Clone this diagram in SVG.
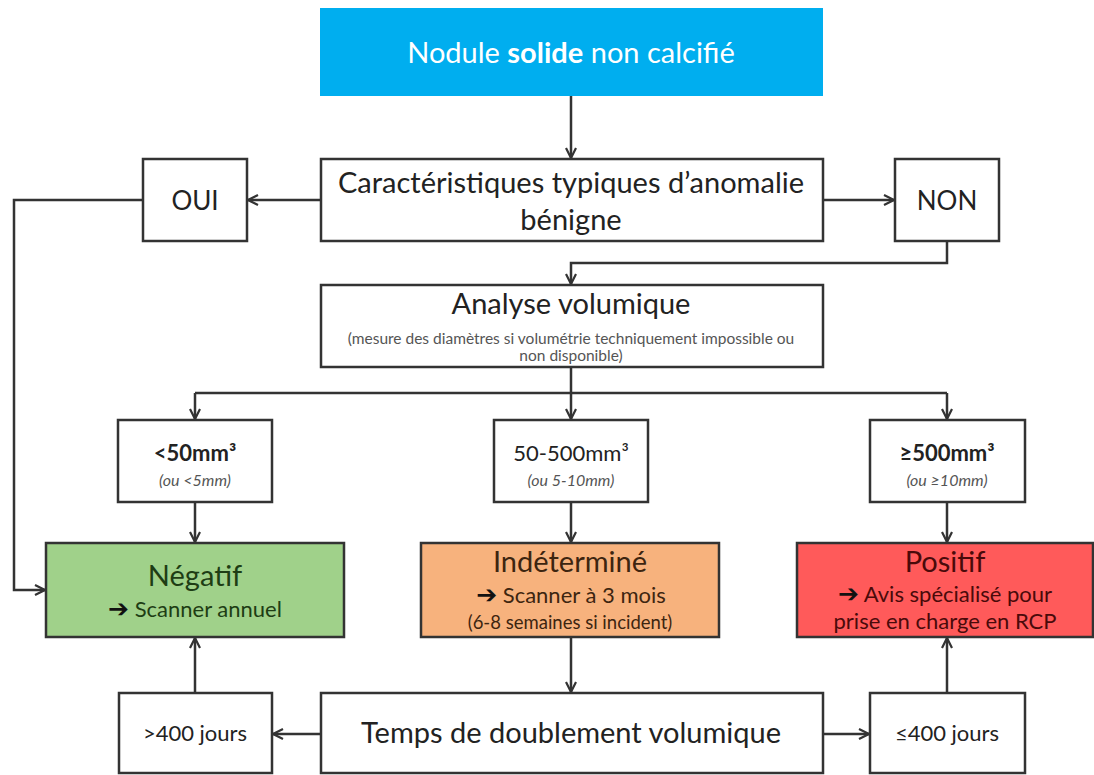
<svg xmlns="http://www.w3.org/2000/svg" width="1094" height="775" viewBox="0 0 1094 775">
<style>
text{font-family:Lato,"Open Sans","Liberation Sans",sans-serif;text-anchor:middle;fill:#222}
.box{fill:#fff;stroke:#333;stroke-width:2.5}
.big{font-size:29px}
.yn{font-size:26px}
.mid{font-size:22px}
.sm{font-size:16px;font-style:italic;fill:#555}
.tiny{font-size:15.5px;fill:#555}
.ar{font-family:"DejaVu Sans",sans-serif;font-weight:bold;font-size:25px;fill:#111}
.conn path{fill:none;stroke:#333;stroke-width:2.5}
</style>
<defs>
<marker id="ah" viewBox="0 0 12 12" refX="11" refY="6" markerWidth="12" markerHeight="12" markerUnits="userSpaceOnUse" orient="auto">
<path d="M1,1 L11,6 L1,11" fill="none" stroke="#333" stroke-width="2.2"/>
</marker>
</defs>
<rect width="1094" height="775" fill="#fff"/>
<g class="conn">
<path d="M571,96 V158" marker-end="url(#ah)"/>
<path d="M321,200 H248" marker-end="url(#ah)"/>
<path d="M823,200 H894" marker-end="url(#ah)"/>
<path d="M143,200 H14 V590 H45" marker-end="url(#ah)"/>
<path d="M947,241 V263 H571 V284" marker-end="url(#ah)"/>
<path d="M571,367 V393"/>
<path d="M195,393 H947"/>
<path d="M195,393 V419" marker-end="url(#ah)"/>
<path d="M571,393 V419" marker-end="url(#ah)"/>
<path d="M947,393 V419" marker-end="url(#ah)"/>
<path d="M195,502 V542" marker-end="url(#ah)"/>
<path d="M571,502 V542" marker-end="url(#ah)"/>
<path d="M947,502 V542" marker-end="url(#ah)"/>
<path d="M571,637 V692" marker-end="url(#ah)"/>
<path d="M195,693 V638" marker-end="url(#ah)"/>
<path d="M947,693 V638" marker-end="url(#ah)"/>
<path d="M321,734 H273" marker-end="url(#ah)"/>
<path d="M823,734 H869" marker-end="url(#ah)"/>
</g>
<g id="start">
<rect x="320" y="8" width="503" height="88" fill="#00AEEF"/>
<text x="571" y="63" class="big" style="fill:#fff">Nodule <tspan font-weight="bold">solide</tspan> non calcifié</text>
</g>
<g id="benign">
<rect class="box" x="321" y="159" width="502" height="82"/>
<text x="571" y="193" class="big">Caractéristiques typiques d’anomalie</text>
<text x="571" y="230" class="big">bénigne</text>
</g>
<g id="oui">
<rect class="box" x="143" y="159" width="104" height="82"/>
<text x="195" y="210" class="yn">OUI</text>
</g>
<g id="non">
<rect class="box" x="895" y="159" width="104" height="82"/>
<text x="947" y="210" class="yn">NON</text>
</g>
<g id="analyse">
<rect class="box" x="321" y="285" width="502" height="82"/>
<text x="571" y="314" class="big">Analyse volumique</text>
<text x="571" y="344" class="tiny">(mesure des diamètres si volumétrie techniquement impossible ou</text>
<text x="571" y="361" class="tiny">non disponible)</text>
</g>
<g id="s1">
<rect class="box" x="118" y="420" width="154" height="82"/>
<text x="195" y="461" class="mid" font-weight="bold">&lt;50mm³</text>
<text x="195" y="486" class="sm">(ou &lt;5mm)</text>
</g>
<g id="s2">
<rect class="box" x="494" y="420" width="154" height="82"/>
<text x="571" y="461" class="mid">50-500mm³</text>
<text x="571" y="486" class="sm">(ou 5-10mm)</text>
</g>
<g id="s3">
<rect class="box" x="870" y="420" width="155" height="82"/>
<text x="947" y="461" class="mid" font-weight="bold">≥500mm³</text>
<text x="947" y="486" class="sm">(ou ≥10mm)</text>
</g>
<g id="neg">
<rect x="46" y="543" width="298" height="94" fill="#A0D18A" stroke="#333" stroke-width="2.5"/>
<text x="195" y="586" class="big" style="fill:#1E3D14">Négatif</text>
<text x="195" y="617" class="mid" style="fill:#1E3D14"><tspan class="ar">➔</tspan> Scanner annuel</text>
</g>
<g id="ind">
<rect x="421" y="543" width="298" height="94" fill="#F7B27D" stroke="#333" stroke-width="2.5"/>
<text x="570" y="572" class="big" style="fill:#3D2510">Indéterminé</text>
<text x="571" y="603" class="mid" style="fill:#3D2510"><tspan class="ar">➔</tspan>   Scanner à 3 mois</text>
<text x="570" y="629" class="mid" style="fill:#3D2510;font-size:18.5px">(6-8 semaines si incident)</text>
</g>
<g id="pos">
<rect x="797" y="543" width="296" height="94" fill="#FF5A5A" stroke="#333" stroke-width="2.5"/>
<text x="945" y="572" class="big" style="fill:#4A0A0A">Positif</text>
<text x="945" y="602" class="mid" style="fill:#4A0A0A"><tspan class="ar">➔</tspan> Avis spécialisé pour</text>
<text x="945" y="629" class="mid" style="fill:#4A0A0A">prise en charge en RCP</text>
</g>
<g id="g400">
<rect class="box" x="119" y="693" width="153" height="80"/>
<text x="195" y="741" class="mid">&gt;400 jours</text>
</g>
<g id="temps">
<rect class="box" x="321" y="693" width="502" height="80"/>
<text x="571" y="743" class="big">Temps de doublement volumique</text>
</g>
<g id="l400">
<rect class="box" x="870" y="693" width="155" height="80"/>
<text x="947" y="741" class="mid">≤400 jours</text>
</g>
</svg>
